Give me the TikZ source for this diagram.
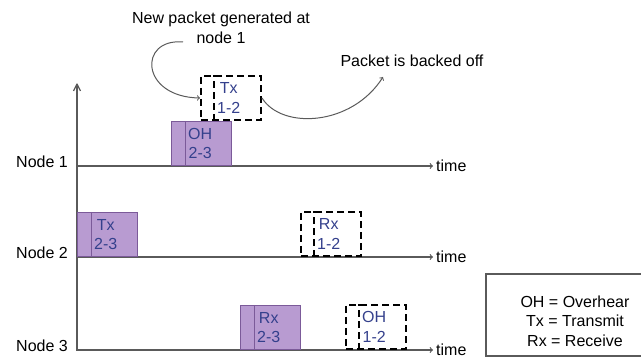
\documentclass[tikz,border=0pt]{standalone}
\usepackage{fontspec}
\setmainfont{Liberation Sans}
\usetikzlibrary{positioning}

\definecolor{slotfill}{HTML}{B89BD1}
\definecolor{slotline}{HTML}{7B5A99}
\definecolor{slottext}{HTML}{34408C}
\definecolor{axisgrey}{HTML}{5A5A5A}

\tikzset{
	lbl/.style = {font=\fontsize{16}{19.5}\selectfont, inner sep=0pt},
	axis/.style = {->, axisgrey, line width=1.2pt},
	busy/.style = {draw=slotline, fill=slotfill, line width=1pt},
	pend/.style = {draw=black, dash pattern=on 7pt off 4pt, line width=2pt},
	slotbox/.style = {minimum width=60pt, minimum height=44pt, anchor=south west, inner sep=0pt},
}

\begin{document}
\begin{tikzpicture}[x=1pt, y=-1pt]
	\useasboundingbox (0,0) rectangle (641,358);
	
	% vertical axis
	\fill[axisgrey] (76.4,351) rectangle (77.6,84);
	\draw[axisgrey, line width=1.2pt, line join=round] (73.5,91) -- (77,84) -- (80.5,91);
	
	\foreach \i/\y in {1/166, 2/257, 3/350}{
		\coordinate(s\i) at (77,\y);
		\coordinate(t\i) at (433,\y);
		\draw[axis] (s\i) -- (t\i);
		\node[lbl, anchor=west](time\i) at (436,\y) {time};
		\node[lbl, anchor=east](node\i) at (68,\y-4) {Node \i};
	}
	
	\foreach \n/\x/\y/\s/\a/\b in {oh23/171/166/busy/OH/2-3, tx12/200/121/pend/Tx/1-2,
			tx23/77/257/busy/Tx/2-3, rx12/300/257/pend/Rx/1-2,
			rx23/240/350/busy/Rx/2-3, oh12/345/350/pend/OH/1-2}{
		\node[slotbox, \s](\n) at (\x,\y) {};
		\draw[\s] ([xshift=14pt]\n.south west) -- ([xshift=14pt]\n.north west);
		\node[lbl, text=slottext, align=center, anchor=west](\n-l)
			at ([xshift=17pt]\n.west) {\a\\\b};
	}
	
	\node[lbl, align=center](newpkt) at (221,28) {New packet generated at\\node 1};
	\node[lbl](backoff) at (412,61) {Packet is backed off};
	\coordinate[](newpkt-end) at (183,42) ;
	\coordinate[](backoff-end) at (383,77) ;
	\draw[->, axisgrey, line width=1pt] (newpkt-end)
		.. controls (138,38) and (140,97) .. (tx12.west);
	\draw[->, axisgrey, line width=1pt] (tx12.east)
		.. controls (282,130) and (352,126) .. (backoff-end);
	
	\node[lbl, align=center](legend) at (575,321) {OH = Overhear\\Tx = Transmit\\Rx = Receive};
	\draw[axisgrey, line width=1.2pt] (486,356) rectangle (660,274);
\end{tikzpicture}
\end{document}
